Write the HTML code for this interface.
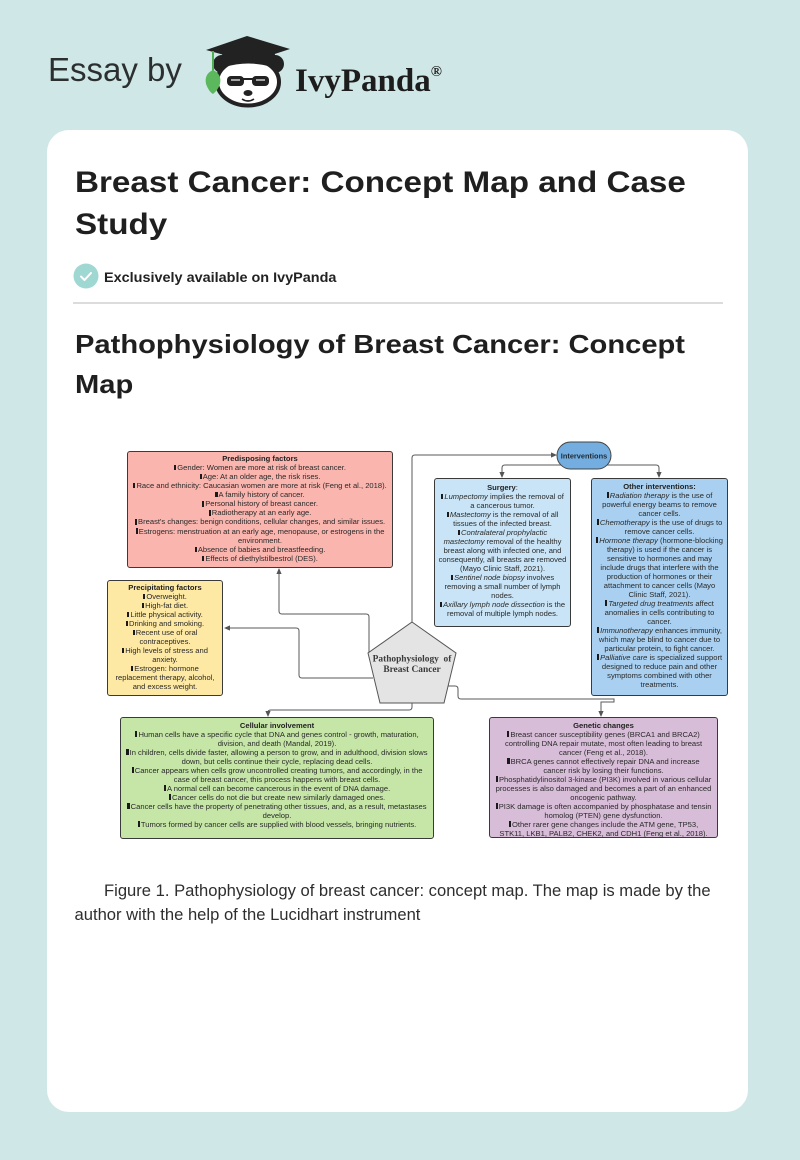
<!DOCTYPE html>
<html><head><meta charset="utf-8"><style>
*{margin:0;padding:0;box-sizing:border-box}
html,body{width:800px;height:1160px;overflow:hidden}
body{background:#cfe7e6;position:relative;font-family:"Liberation Sans",Arial,sans-serif;color:#222}
.abs{position:absolute;white-space:nowrap}
.card{position:absolute;left:47px;top:130px;width:701px;height:982px;background:#fff;border-radius:22px}
.box{position:absolute;border:1px solid #3a3a3a;border-radius:3px;text-align:center;font-size:7.6px;line-height:9px;white-space:nowrap;color:#2a2a2a;font-family:"Liberation Sans",Arial,sans-serif}
.box b{color:#222}
.bl{display:inline-block;width:2.2px;height:5.5px;background:#1a1a1a;margin-right:1px;vertical-align:-0.3px}
</style></head><body>

<!-- Header -->
<div class="abs" style="left:48px;top:53px;font-size:33px;line-height:33px;color:#2b2f30;">Essay by</div>
<svg class="abs" style="left:0;top:0" width="800" height="130" viewBox="0 0 800 130">
  <circle cx="222" cy="64" r="9" fill="#222"/>
  <circle cx="275" cy="64" r="9" fill="#222"/>
  <ellipse cx="248" cy="82" rx="31" ry="23.5" fill="#fff" stroke="#222" stroke-width="4"/>
  <path d="M222 54 L275 54 L272 67 Q248 60 225 67 Z" fill="#222"/>
  <polygon points="206,50 247,36 290,49 250,62" fill="#222"/>
  <rect x="227" y="76" width="17" height="10" rx="4" fill="#222"/>
  <rect x="252" y="76" width="17" height="10" rx="4" fill="#222"/>
  <rect x="243" y="78" width="10" height="2" fill="#222"/>
  <line x1="231" y1="80" x2="240" y2="80" stroke="#fff" stroke-width="1.2"/>
  <line x1="256" y1="80" x2="265" y2="80" stroke="#fff" stroke-width="1.2"/>
  <ellipse cx="248" cy="93" rx="4.5" ry="3" fill="#222"/>
  <path d="M242 99 Q248 103 254 99" stroke="#222" stroke-width="1.6" fill="none"/>
  <line x1="213" y1="51" x2="213" y2="72" stroke="#4caf50" stroke-width="2"/>
  <path d="M213 70 Q204 74 206 84 Q209 92 213 94 Q218 90 220 84 Q222 74 213 70 Z" fill="#5cb85c"/>
</svg>
<div class="abs" style="left:295px;top:56px;font-family:'Liberation Serif',serif;font-weight:bold;font-size:33px;line-height:33px;color:#1d1d1d;">IvyPanda<span style="font-size:15px;vertical-align:15px;">®</span></div>

<div class="card"></div>

<!-- Title -->
<div class="abs" style="left:75px;top:161.6px;font-size:30px;line-height:42px;font-weight:bold;color:#1f1f1f;transform:scaleX(1.107);transform-origin:0 0;">Breast Cancer: Concept Map and Case<br>Study</div>

<svg class="abs" style="left:73px;top:263px" width="27" height="27"><circle cx="13" cy="13" r="12.5" fill="#9fd8d2"/><path d="M8 13.5 L11.5 17 L18 10" stroke="#fff" stroke-width="2" fill="none" stroke-linecap="round" stroke-linejoin="round"/></svg>
<div class="abs" style="left:104px;top:268.9px;font-size:14px;line-height:16px;font-weight:bold;color:#222;transform:scaleX(1.03);transform-origin:0 0;">Exclusively available on IvyPanda</div>

<div class="abs" style="left:73px;top:302px;width:650px;height:2px;background:#dcdcdc;"></div>

<div class="abs" style="left:75px;top:324px;font-size:26px;line-height:40px;font-weight:bold;color:#1f1f1f;transform:scaleX(1.12);transform-origin:0 0;">Pathophysiology of Breast Cancer: Concept<br>Map</div>

<!-- Diagram boxes -->
<div class="box" style="left:127px;top:451px;width:266px;height:117px;background:#f9b5ae;padding-top:1.8px;line-height:9.1px;">
<b>Predisposing factors</b><br>
<span class="bl"></span>Gender: Women are more at risk of breast cancer.<br>
<span class="bl"></span>Age: At an older age, the risk rises.<br>
<span class="bl"></span>Race and ethnicity: Caucasian women are more at risk (Feng et al., 2018).<br>
<span class="bl"></span>A family history of cancer.<br>
<span class="bl"></span>Personal history of breast cancer.<br>
<span class="bl"></span>Radiotherapy at an early age.<br>
<span class="bl"></span>Breast's changes: benign conditions, cellular changes, and similar issues.<br>
<span class="bl"></span>Estrogens: menstruation at an early age, menopause, or estrogens in the<br>
environment.<br>
<span class="bl"></span>Absence of babies and breastfeeding.<br>
<span class="bl"></span>Effects of diethylstilbestrol (DES).
</div>

<div class="box" style="left:107px;top:580px;width:116px;height:116px;background:#fde9a4;padding-top:2.2px;">
<b>Precipitating factors</b><br>
<span class="bl"></span>Overweight.<br>
<span class="bl"></span>High-fat diet.<br>
<span class="bl"></span>Little physical activity.<br>
<span class="bl"></span>Drinking and smoking.<br>
<span class="bl"></span>Recent use of oral<br>
contraceptives.<br>
<span class="bl"></span>High levels of stress and<br>
anxiety.<br>
<span class="bl"></span>Estrogen: hormone<br>
replacement therapy, alcohol,<br>
and excess weight.
</div>

<div class="box" style="left:434px;top:478px;width:137px;height:149px;background:#c8e4f6;padding-top:3.8px;">
<b>Surgery</b>:<br>
<span class="bl"></span><i>Lumpectomy</i> implies the removal of<br>
a cancerous tumor.<br>
<span class="bl"></span><i>Mastectomy</i> is the removal of all<br>
tissues of the infected breast.<br>
<span class="bl"></span><i>Contralateral prophylactic</i><br>
<i>mastectomy</i> removal of the healthy<br>
breast along with infected one, and<br>
consequently, all breasts are removed<br>
(Mayo Clinic Staff, 2021).<br>
<span class="bl"></span><i>Sentinel node biopsy</i> involves<br>
removing a small number of lymph<br>
nodes.<br>
<span class="bl"></span><i>Axillary lymph node dissection</i> is the<br>
removal of multiple lymph nodes.
</div>

<div class="box" style="left:591px;top:478px;width:137px;height:218px;background:#a9d0f0;padding-top:2.5px;">
<b>Other interventions:</b><br>
<span class="bl"></span><i>Radiation therapy</i> is the use of<br>
powerful energy beams to remove<br>
cancer cells.<br>
<span class="bl"></span><i>Chemotherapy</i> is the use of drugs to<br>
remove cancer cells.<br>
<span class="bl"></span><i>Hormone therapy</i> (hormone-blocking<br>
therapy) is used if the cancer is<br>
sensitive to hormones and may<br>
include drugs that interfere with the<br>
production of hormones or their<br>
attachment to cancer cells (Mayo<br>
Clinic Staff, 2021).<br>
<span class="bl"></span><i>Targeted drug treatments</i> affect<br>
anomalies in cells contributing to<br>
cancer.<br>
<span class="bl"></span><i>Immunotherapy</i> enhances immunity,<br>
which may be blind to cancer due to<br>
particular protein, to fight cancer.<br>
<span class="bl"></span><i>Palliative care</i> is specialized support<br>
designed to reduce pain and other<br>
symptoms combined with other<br>
treatments.
</div>

<div class="box" style="left:120px;top:717px;width:314px;height:122px;background:#c6e6a8;padding-top:2.5px;">
<b>Cellular involvement</b><br>
<span class="bl"></span>Human cells have a specific cycle that DNA and genes control - growth, maturation,<br>
division, and death (Mandal, 2019).<br>
<span class="bl"></span>In children, cells divide faster, allowing a person to grow, and in adulthood, division slows<br>
down, but cells continue their cycle, replacing dead cells.<br>
<span class="bl"></span>Cancer appears when cells grow uncontrolled creating tumors, and accordingly, in the<br>
case of breast cancer, this process happens with breast cells.<br>
<span class="bl"></span>A normal cell can become cancerous in the event of DNA damage.<br>
<span class="bl"></span>Cancer cells do not die but create new similarly damaged ones.<br>
<span class="bl"></span>Cancer cells have the property of penetrating other tissues, and, as a result, metastases<br>
develop.<br>
<span class="bl"></span>Tumors formed by cancer cells are supplied with blood vessels, bringing nutrients.
</div>

<div class="box" style="left:489px;top:717px;width:229px;height:121px;background:#d8bdd8;padding-top:2.5px;">
<b>Genetic changes</b><br>
<span class="bl"></span>Breast cancer susceptibility genes (BRCA1 and BRCA2)<br>
controlling DNA repair mutate, most often leading to breast<br>
cancer (Feng et al., 2018).<br>
<span class="bl"></span>BRCA genes cannot effectively repair DNA and increase<br>
cancer risk by losing their functions.<br>
<span class="bl"></span>Phosphatidylinositol 3-kinase (PI3K) involved in various cellular<br>
processes is also damaged and becomes a part of an enhanced<br>
oncogenic pathway.<br>
<span class="bl"></span>PI3K damage is often accompanied by phosphatase and tensin<br>
homolog (PTEN) gene dysfunction.<br>
<span class="bl"></span>Other rarer gene changes include the ATM gene, TP53,<br>
STK11, LKB1, PALB2, CHEK2, and CDH1 (Feng et al., 2018).
</div>

<!-- Connectors, pentagon, oval -->
<svg class="abs" style="left:0;top:0" width="800" height="1160" viewBox="0 0 800 1160">
  <g fill="none" stroke="#5a5a5a" stroke-width="1">
    <path d="M412 622 V458 Q412 455 415 455 H552"/>
    <path d="M502 473 V468 Q502 465 505 465 H656 Q659 465 659 468 V473"/>
    <path d="M369 653 V617 Q369 614 366 614 H282 Q279 614 279 611 V573"/>
    <path d="M373 678 H302 Q299 678 299 675 V631 Q299 628 296 628 H229"/>
    <path d="M412 703 V707 Q412 710 409 710 H271 Q268 710 268 712"/>
    <path d="M448 686 H455 Q458 686 458 689 V696 Q458 699 461 699 H614 V702 H601 V712"/>
  </g>
  <g fill="#555">
    <polygon points="557,455 551,452.4 551,457.6"/>
    <polygon points="502,478 499.4,472 504.6,472"/>
    <polygon points="659,478 656.4,472 661.6,472"/>
    <polygon points="279,568 276.4,574 281.6,574"/>
    <polygon points="224,628 230,625.4 230,630.6"/>
    <polygon points="268,717 265.4,711 270.6,711"/>
    <polygon points="601,717 598.4,711 603.6,711"/>
  </g>
  <polygon points="412,622 456,653 444,703 380,703 368,653" fill="#e4e4e4" stroke="#555" stroke-width="1"/>
  <text x="412" y="661.5" text-anchor="middle" font-family="'Liberation Serif',serif" font-weight="bold" font-size="9.4" fill="#3a3a3a" xml:space="preserve">Pathophysiology  of</text>
  <text x="412" y="672" text-anchor="middle" font-family="'Liberation Serif',serif" font-weight="bold" font-size="9.4" fill="#3a3a3a">Breast Cancer</text>
  <rect x="557" y="442" width="54" height="27" rx="13.5" fill="#74aee0" stroke="#444" stroke-width="1"/>
  <text x="584" y="458.3" text-anchor="middle" font-family="'Liberation Sans',Arial,sans-serif" font-weight="bold" font-size="7.4" fill="#1e2a35">Interventions</text>
</svg>

<!-- Caption -->
<div class="abs" style="left:74.5px;top:879.3px;font-size:16.6px;line-height:23.3px;color:#2e2e2e;text-indent:29.5px;">Figure 1. Pathophysiology of breast cancer: concept map. The map is made by the<br>author with the help of the Lucidhart instrument</div>

</body></html>
